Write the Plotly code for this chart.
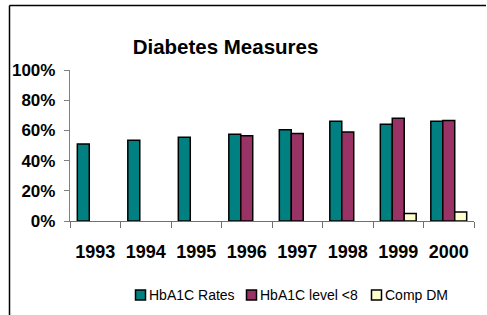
import plotly.graph_objects as go

years = ["1993", "1994", "1995", "1996", "1997", "1998", "1999", "2000"]
hba1c_rates = [0.51, 0.535, 0.555, 0.575, 0.605, 0.66, 0.64, 0.66]
hba1c_lt8 = [None, None, None, 0.565, 0.58, 0.59, 0.68, 0.665]
comp_dm = [None, None, None, None, None, None, 0.05, 0.06]

series_names = ["HbA1C Rates", "HbA1C level <8", "Comp DM"]
series_colors = ["#008080", "#993366", "#FFFFCC"]

FONT = "Liberation Sans, Arial, sans-serif"

fig = go.Figure()
for name, vals, col in zip(series_names, [hba1c_rates, hba1c_lt8, comp_dm], series_colors):
    fig.add_trace(go.Bar(
        x=years, y=vals, name=name,
        marker=dict(color=col, line=dict(color="black", width=1.5)),
    ))

L, R, T, B = 70, 13, 70, 94
W, H = 487, 315
pw, ph = W - L - R, H - T - B

def px_x(p):
    return (p - L) / pw

def px_y(p):
    return (H - B - p) / ph

shapes = [
    dict(type="line", xref="paper", yref="paper",
         x0=px_x(9.5), x1=px_x(486), y0=px_y(5.5), y1=px_y(5.5),
         line=dict(color="black", width=1.5), layer="below"),
    dict(type="line", xref="paper", yref="paper",
         x0=px_x(9.5), x1=px_x(9.5), y0=px_y(5.5), y1=px_y(330),
         line=dict(color="black", width=1.5), layer="below"),
]
annotations = []
legend_sq_x = [135, 246, 371]
legend_cy = 295
for name, col, sx in zip(series_names, series_colors, legend_sq_x):
    shapes.append(dict(type="rect", xref="paper", yref="paper",
                       x0=px_x(sx + 0.5), x1=px_x(sx + 10.5),
                       y0=px_y(legend_cy - 5), y1=px_y(legend_cy + 5),
                       fillcolor=col, line=dict(color="black", width=1.5)))
    annotations.append(dict(text=name, xref="paper", yref="paper",
                            x=px_x(sx + 13), y=px_y(legend_cy),
                            xanchor="left", yanchor="middle", showarrow=False,
                            borderpad=0, font=dict(size=14, family=FONT, color="black")))

fig.update_layout(
    width=W, height=H,
    margin=dict(l=L, r=R, t=T, b=B, autoexpand=False),
    paper_bgcolor="white", plot_bgcolor="white",
    barmode="group", bargap=0.29, bargroupgap=0,
    font=dict(family=FONT, color="black"),
    title=dict(text="<b>Diabetes Measures</b>", font=dict(size=20.5, family=FONT),
               x=225.5 / W, xanchor="center",
               y=1 - 47 / H, yanchor="middle"),
    showlegend=False,
    shapes=shapes,
    annotations=annotations,
)

fig.update_xaxes(
    type="category", showline=True, linecolor="#707070", linewidth=1.3,
    ticks="outside", tickson="boundaries", ticklen=6, tickcolor="#707070",
    tickfont=dict(size=18, family=FONT), tickprefix="<b>", ticksuffix="</b>",
    ticklabelstandoff=14, showgrid=False, zeroline=False, automargin=False,
)
fig.update_yaxes(
    range=[0, 1], dtick=0.2, tickformat=".0%",
    showline=True, linecolor="#808080", linewidth=1.3,
    ticks="outside", ticklen=5, tickcolor="#808080",
    tickfont=dict(size=17, family=FONT), tickprefix="<b>", ticksuffix="</b>",
    ticklabelstandoff=5, showgrid=False, zeroline=False, automargin=False,
)

fig.write_html("out.html", config={"displayModeBar": False},
               post_script="document.body.style.margin='0';document.body.style.overflow='hidden';document.documentElement.style.overflow='hidden';")
